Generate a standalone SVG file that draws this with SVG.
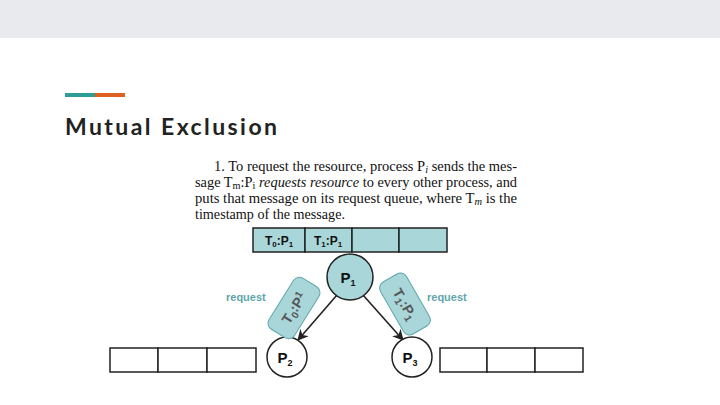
<svg xmlns="http://www.w3.org/2000/svg" width="720" height="405" viewBox="0 0 720 405">
<style>
.cell{fill:#a9d6d9;stroke:#222;stroke-width:1.5}
.ecell{fill:#fff;stroke:#222;stroke-width:1.5}
.lbl{font-family:"Liberation Sans",Arial,sans-serif;font-weight:bold}
.req{font-family:"Liberation Sans",Arial,sans-serif;font-weight:bold;font-size:11px;fill:#5ea6ab}
.body{font-family:"Liberation Serif","Times New Roman",serif;font-size:14px;fill:#111}
.conn{stroke:#222;stroke-width:1.6;fill:none;marker-end:url(#ah)}
</style>
<defs><marker id="ah" viewBox="0 0 10 10" refX="9" refY="5" markerWidth="7" markerHeight="7" orient="auto"><path d="M0,0 L10,5 L0,10 L3,5 z" fill="#222"/></marker></defs>
<rect width="720" height="405" fill="#fff"/>
<rect width="720" height="38" fill="#e8eaed"/>
<rect x="65" y="93" width="30" height="4" fill="#2e9d98"/>
<rect x="95" y="93" width="30" height="4" fill="#e0611f"/>
<text x="65" y="135" font-family="Lato,'Noto Sans',sans-serif" font-size="23" font-weight="bold" fill="#222" textLength="212" lengthAdjust="spacing">Mutual Exclusion</text>
<g id="text">
<text class="body" x="214" y="171" textLength="303" lengthAdjust="spacingAndGlyphs">1.  To request the resource, process P<tspan font-style="italic" font-size="10" dy="2">i</tspan><tspan dy="-2"> sends the mes-</tspan></text>
<text class="body" x="195" y="187" textLength="322" lengthAdjust="spacingAndGlyphs">sage T<tspan font-size="10" dy="2">m</tspan><tspan dy="-2">:P</tspan><tspan font-size="10" dy="2">i</tspan><tspan dy="-2" font-style="italic"> requests resource</tspan> to every other process, and</text>
<text class="body" x="195" y="203" textLength="322" lengthAdjust="spacingAndGlyphs">puts that message on its request queue, where T<tspan font-style="italic" font-size="10" dy="2">m</tspan><tspan dy="-2"> is the</tspan></text>
<text class="body" x="195" y="219" textLength="150" lengthAdjust="spacingAndGlyphs">timestamp of the message.</text>
</g>
<g id="queue1">
<rect class="cell" x="253" y="228" width="52" height="24"/>
<rect class="cell" x="305" y="228" width="47" height="24"/>
<rect class="cell" x="352" y="228" width="47" height="24"/>
<rect class="cell" x="399" y="228" width="48" height="24"/>
<text class="lbl" x="279" y="245" text-anchor="middle" font-size="12" fill="#111">T<tspan font-size="8" dy="2">0</tspan><tspan dy="-2">:P</tspan><tspan font-size="8" dy="2">1</tspan></text>
<text class="lbl" x="328" y="245" text-anchor="middle" font-size="12" fill="#111">T<tspan font-size="8" dy="2">1</tspan><tspan dy="-2">:P</tspan><tspan font-size="8" dy="2">1</tspan></text>
</g>
<g id="queue2">
<rect class="ecell" x="110" y="348" width="48" height="24"/>
<rect class="ecell" x="158" y="348" width="49" height="24"/>
<rect class="ecell" x="207" y="348" width="49" height="24"/>
</g>
<g id="queue3">
<rect class="ecell" x="440" y="348" width="47" height="24"/>
<rect class="ecell" x="487" y="348" width="48" height="24"/>
<rect class="ecell" x="535" y="348" width="48" height="24"/>
</g>
<g id="connectors">
<line class="conn" x1="337" y1="295" x2="298" y2="340"/>
<line class="conn" x1="363" y1="295" x2="403" y2="340"/>
</g>
<g id="P1"><circle cx="350" cy="277" r="23" fill="#a9d6d9" stroke="#222" stroke-width="1.5"/><text class="lbl" x="348" y="283" text-anchor="middle" font-size="15" fill="#111">P<tspan font-size="9" dy="3">1</tspan></text></g>
<g id="P2"><circle cx="287" cy="357" r="20" fill="#fff" stroke="#222" stroke-width="1.5"/><text class="lbl" x="285" y="363" text-anchor="middle" font-size="15" fill="#111">P<tspan font-size="9" dy="3">2</tspan></text></g>
<g id="P3"><circle cx="412" cy="357" r="20" fill="#fff" stroke="#222" stroke-width="1.5"/><text class="lbl" x="410" y="363" text-anchor="middle" font-size="15" fill="#111">P<tspan font-size="9" dy="3">3</tspan></text></g>
<g id="msg0" transform="translate(294,308) rotate(-58)">
<rect x="-30" y="-15" width="60" height="30" rx="7" fill="#a9d6d9" stroke="#5ea6ab" stroke-width="1"/>
<text class="lbl" x="0" y="5" text-anchor="middle" font-size="14" fill="#555">T<tspan font-size="10" dy="3">0</tspan><tspan dy="-3">:P</tspan><tspan font-size="10" dy="-5">1</tspan></text>
</g>
<g id="msg1" transform="translate(405,304) rotate(60)">
<rect x="-30" y="-15" width="60" height="30" rx="7" fill="#a9d6d9" stroke="#5ea6ab" stroke-width="1"/>
<text class="lbl" x="0" y="5" text-anchor="middle" font-size="14" fill="#555">T<tspan font-size="10" dy="3">1</tspan><tspan dy="-3">:P</tspan><tspan font-size="10" dy="3">1</tspan></text>
</g>
<text class="req" x="226" y="301">request</text>
<text class="req" x="427" y="301">request</text>
</svg>
